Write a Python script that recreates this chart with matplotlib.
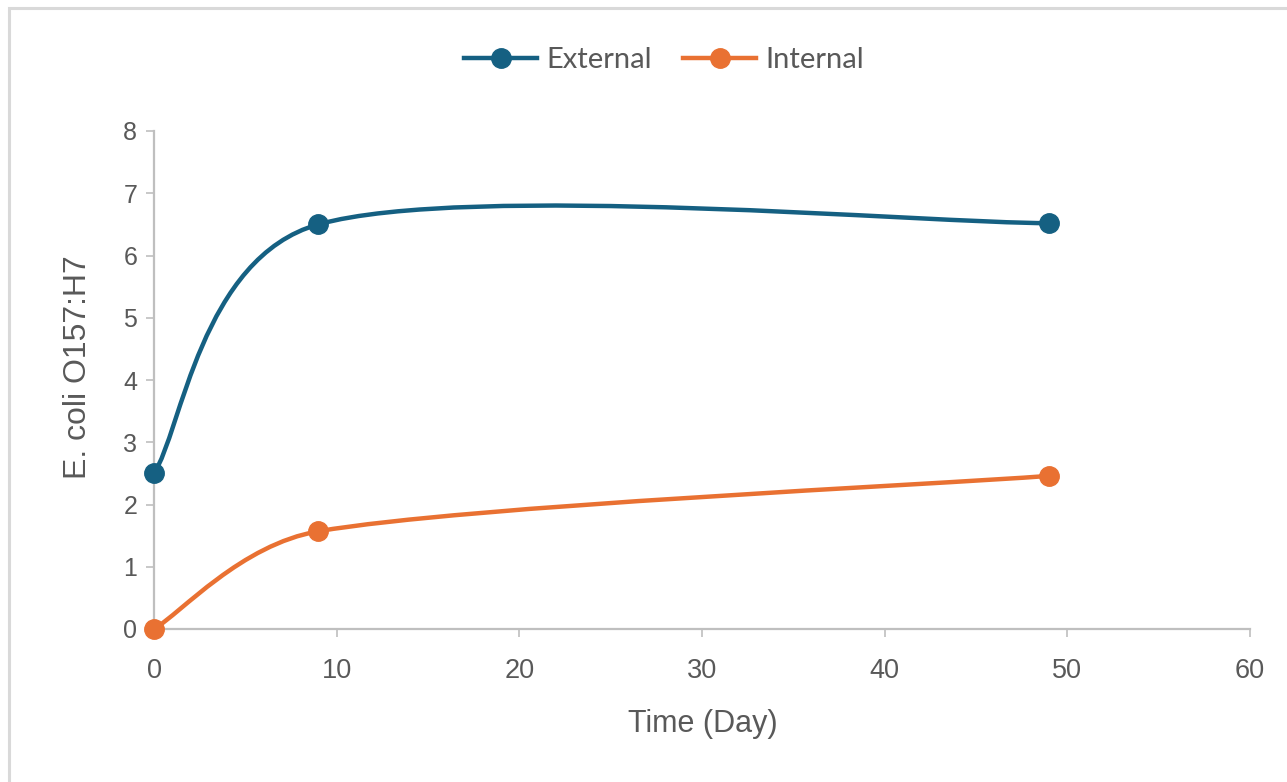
import numpy as np
import matplotlib.pyplot as plt
from matplotlib.path import Path
from matplotlib.patches import PathPatch, Rectangle
from matplotlib.lines import Line2D

# data
days = [0, 9, 49]
external = [2.5, 6.5, 6.52]
internal = [0.0, 1.57, 2.46]
xticks = [0, 10, 20, 30, 40, 50, 60]
yticks = [0, 1, 2, 3, 4, 5, 6, 7, 8]

c_ext = '#156082'
c_int = '#E97132'
grey = '#BFBFBF'
txt = '#595959'

fig = plt.figure(figsize=(12.87, 7.82), dpi=100)
ax = fig.add_axes([154/1287, 1-629/782, (1250-154)/1287, (629-131)/782])
ax.set_xlim(0, 60)
ax.set_ylim(0, 8)

# chart area border (only top/left visible in the picture)
fig.patches.append(Rectangle((8.5/1287, -0.2), 1.5, 1.2 - 7.5/782, transform=fig.transFigure,
                             fill=False, edgecolor='#D9D9D9', linewidth=2.2, zorder=0))


def smooth_path(xs, ys):
    # excel-like smoothed line, worked out in screen space:
    # cubic bezier, catmull-rom tangents, handle length capped by the segment length
    pts = ax.transData.transform(np.column_stack([xs, ys]))
    n = len(pts)
    verts = [pts[0]]
    codes = [Path.MOVETO]
    for i in range(n - 1):
        p0 = pts[i - 1] if i > 0 else pts[i]
        p1 = pts[i]
        p2 = pts[i + 1]
        p3 = pts[i + 2] if i + 2 < n else pts[i + 1]
        seg = np.hypot(*(p2 - p1))
        t1 = (p2 - p0) / 6
        t2 = (p3 - p1) / 6
        t1 = t1 * min(1, 0.41 * seg / max(np.hypot(*t1), 1e-9))
        t2 = t2 * min(1, 0.41 * seg / max(np.hypot(*t2), 1e-9))
        verts += [p1 + t1, p2 - t2, p2]
        codes += [Path.CURVE4] * 3
    verts = ax.transData.inverted().transform(np.array(verts))
    return Path(verts, codes)


for ys, col in [(external, c_ext), (internal, c_int)]:
    ax.add_patch(PathPatch(smooth_path(days, ys), fill=False, edgecolor=col,
                           linewidth=3.2, capstyle='round', zorder=3))
    ax.plot(days, ys, 'o', color=col, markersize=14, linestyle='none', zorder=4, clip_on=False)

ax.set_xticks(xticks)
ax.set_yticks(yticks)

for s in ['top', 'right']:
    ax.spines[s].set_visible(False)
for s in ['left', 'bottom']:
    ax.spines[s].set_color(grey)
    ax.spines[s].set_linewidth(1.6)

ax.tick_params(axis='both', direction='out', length=6, width=1.2, color=grey, labelcolor=txt)
ax.tick_params(axis='y', pad=6, labelsize=18)
ax.tick_params(axis='x', pad=15, labelsize=19.5)
for lab in ax.get_yticklabels() + ax.get_xticklabels():
    lab.set_family('Liberation Sans')

ax.set_ylabel('E. coli O157:H7', fontsize=23, color=txt, family='Liberation Sans')
ax.yaxis.set_label_coords(-0.0557, 0.526)
ax.set_xlabel('Time (Day)', fontsize=22, color=txt, family='Liberation Sans')
ax.xaxis.set_label_coords(0.5009, -0.1606)

handles = [Line2D([], [], color=c_ext, linewidth=3.2, marker='o', markersize=14),
           Line2D([], [], color=c_int, linewidth=3.2, marker='o', markersize=14)]
leg = fig.legend(handles, ['External', 'Internal'], loc='center', bbox_to_anchor=(664/1287, 1-60/782),
                 ncol=2, frameon=False, handlelength=2.5, columnspacing=1.1, handletextpad=0.3,
                 prop={'family': 'Lato', 'size': 21})
for t in leg.get_texts():
    t.set_color(txt)

plt.savefig('out.png', dpi=100)
